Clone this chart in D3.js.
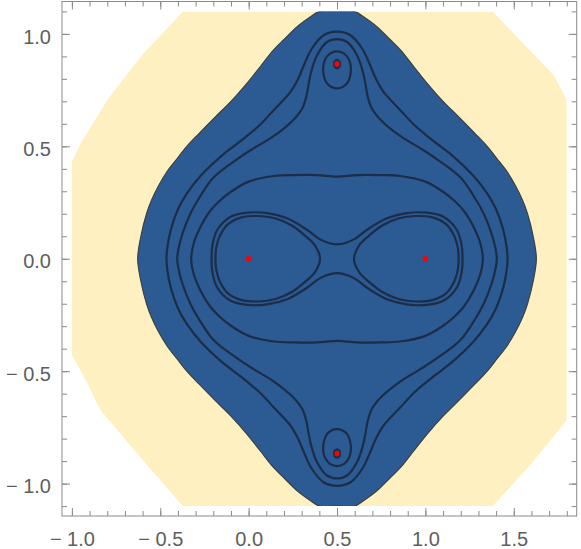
<!DOCTYPE html>
<html>
<head>
<meta charset="utf-8">
<script src="https://cdn.jsdelivr.net/npm/d3@7"></script>
<style>
  body { margin: 0; background: #fff; }
  svg { display: block; }
  text { font-family: "Liberation Sans", Arial, sans-serif; }
</style>
</head>
<body>
<svg id="chart" width="581" height="549"></svg>
<script>
// ---- data (x, y in plot units) ----

// axis ticks
const xMajor = [-1, -0.5, 0, 0.5, 1, 1.5];
const xMajorLabels = ["\u2212 1.0", "\u2212 0.5", "0.0", "0.5", "1.0", "1.5"];
const yMajor = [-1, -0.5, 0, 0.5, 1];
const yMajorLabels = ["\u2212 1.0", "\u2212 0.5", "0.0", "0.5", "1.0"];

// marked points
const roots = [[0, 0], [1, 0], [0.5, 0.866], [0.5, -0.866]];

// pale outer region (polygon)
const outerRegion = [
  [-0.371, 1.1], [1.381, 1.1], [1.555, 0.956], [1.725, 0.817], [1.8, 0.706],
  [1.8, -0.717], [1.602, -0.909], [1.381, -1.1], [-0.373, -1.1],
  [-0.615, -0.88], [-0.841, -0.672], [-0.907, -0.561], [-1, -0.428],
  [-1, 0.431], [-0.945, 0.52], [-0.794, 0.713], [-0.596, 0.913]
];

// the picture is symmetric about x = 0.5 and y = 0: quadrant traces
const mirrorX = 0.5;

// filled region edge, from the top (x = 0.5) to the real axis
const regionEdge = [
  [0.5, 1.1], [0.6, 1.1], [0.65, 1.076], [0.724, 1.033], [0.8, 0.975],
  [0.86, 0.928], [0.934, 0.855], [1.01, 0.78], [1.1, 0.7], [1.19, 0.63],
  [1.28, 0.558], [1.35, 0.5], [1.4, 0.45], [1.46, 0.39], [1.51, 0.325],
  [1.55, 0.26], [1.578, 0.2], [1.61, 0.1], [1.628, 0]
];

// level curves, quadrant traces (top of x = 0.5 -> real axis)
const levelB = [
  [0.5, 1.01], [0.576, 0.994], [0.642, 0.935], [0.685, 0.865], [0.72, 0.8],
  [0.76, 0.745], [0.81, 0.7], [0.857, 0.662], [0.934, 0.597], [1.048, 0.522],
  [1.15, 0.46], [1.27, 0.37], [1.35, 0.29], [1.4, 0.22], [1.44, 0.13],
  [1.46, 0.05], [1.465, 0]
];
const levelC = [
  [0.5, 0.977], [0.557, 0.964], [0.613, 0.905], [0.645, 0.835], [0.66, 0.78],
  [0.674, 0.72], [0.697, 0.668], [0.75, 0.615], [0.859, 0.545], [0.972, 0.491],
  [1.07, 0.44], [1.2, 0.36], [1.28, 0.27], [1.33, 0.2], [1.375, 0.11],
  [1.398, 0.04], [1.404, 0]
];
const levelD = [
  [0.5, 0.365], [0.613, 0.372], [0.745, 0.372], [0.857, 0.368], [1.0, 0.343],
  [1.1, 0.298], [1.159, 0.261], [1.22, 0.21], [1.272, 0.142], [1.31, 0.07],
  [1.325, 0]
];
const levelE = [
  [0.5, 0.064], [0.593, 0.085], [0.668, 0.128], [0.782, 0.18], [0.895, 0.203],
  [1.008, 0.205], [1.102, 0.187], [1.178, 0.128], [1.205, 0.06], [1.21, 0]
];

// oval round the root at 1 (upper half, left tip -> right end)
const levelF = [
  [0.596, 0], [0.624, 0.058], [0.681, 0.103], [0.756, 0.148], [0.851, 0.18],
  [0.945, 0.19], [1.039, 0.184], [1.115, 0.155], [1.162, 0.103], [1.184, 0.046],
  [1.188, 0]
];

// loops round the root at 0.5 + 0.866i (right half, top -> bottom)
const levelG1 = [
  [0.5, 0.922], [0.54, 0.912], [0.566, 0.888], [0.578, 0.855], [0.575, 0.815],
  [0.56, 0.783], [0.532, 0.764], [0.5, 0.758]
];
const levelG2 = [
  [0.5, 0.884], [0.512, 0.879], [0.517, 0.866], [0.512, 0.853], [0.5, 0.848]
];

// ---- helpers to close the symmetric traces ----
function fromQuadrant(q) {
  const n = q.length;
  const q4 = q.slice(0, n - 1).reverse().map(([a, b]) => [a, -b]);
  const q3 = q.slice(1).map(([a, b]) => [2 * mirrorX - a, -b]);
  const q2 = q.slice(1, n - 1).reverse().map(([a, b]) => [2 * mirrorX - a, b]);
  return [...q, ...q4, ...q3, ...q2];
}
function fromUpperHalf(h) {
  return [...h, ...h.slice(1, -1).reverse().map(([a, b]) => [a, -b])];
}
function fromRightHalf(h) {
  return [...h, ...h.slice(1, -1).reverse().map(([a, b]) => [2 * mirrorX - a, b])];
}
const flipX = pts => pts.map(([a, b]) => [2 * mirrorX - a, b]);
const flipY = pts => pts.map(([a, b]) => [a, -b]);

// ---- chart ----
const svg = d3.select('#chart');

const x = d3.scaleLinear().domain([-1.056, 1.856]).range([62, 576.7]);
const y = d3.scaleLinear().domain([-1.144, 1.144]).range([516, 1.5]);

svg.append('defs').append('clipPath')
  .attr('id', 'plotClip')
  .append('rect')
  .attr('x', x(-1))
  .attr('y', y(1.1))
  .attr('width', x(1.8) - x(-1))
  .attr('height', y(-1.1) - y(1.1));

const plot = svg.append('g').attr('clip-path', 'url(#plotClip)');

const straight = d3.line().x(d => x(d[0])).y(d => y(d[1])).curve(d3.curveLinearClosed);
const smooth = d3.line().x(d => x(d[0])).y(d => y(d[1])).curve(d3.curveCatmullRomClosed.alpha(0.5));

plot.append('path')
  .attr('d', straight(outerRegion))
  .attr('fill', '#fff0c2');

plot.append('path')
  .attr('d', smooth(fromQuadrant(regionEdge)))
  .attr('fill', '#2c5a93')
  .attr('stroke', '#3d3f3c')
  .attr('stroke-width', 1.1);

const rightOval = fromUpperHalf(levelF);
const topLoop1 = fromRightHalf(levelG1);
const topLoop2 = fromRightHalf(levelG2);

const curves = [
  fromQuadrant(levelB),
  fromQuadrant(levelC),
  fromQuadrant(levelD),
  fromQuadrant(levelE),
  rightOval, flipX(rightOval),
  topLoop1, flipY(topLoop1),
  topLoop2, flipY(topLoop2)
];

plot.selectAll('.level')
  .data(curves)
  .enter().append('path')
  .attr('class', 'level')
  .attr('d', d => smooth(d))
  .attr('fill', 'none')
  .attr('stroke', '#1b2d47')
  .attr('stroke-width', 2.2);

plot.selectAll('.root')
  .data(roots)
  .enter().append('circle')
  .attr('class', 'root')
  .attr('cx', d => x(d[0]))
  .attr('cy', d => y(d[1]))
  .attr('r', 2.7)
  .attr('fill', '#ff0000');

// ---- frame and ticks ----
const frameColor = '#8a8a8a';
const labelColor = '#5e5e5e';
const xMinor = d3.range(-10, 19).map(i => i / 10);
const yMinor = d3.range(-11, 12).map(i => i / 10);

const frameLeft = x.range()[0], frameRight = x.range()[1];
const frameTop = y.range()[1], frameBottom = y.range()[0];

function styleAxis(g) {
  g.select('.domain').remove();
  g.selectAll('line').attr('stroke', frameColor);
  g.selectAll('text').attr('fill', labelColor).attr('font-size', 20);
}

// bottom
svg.append('g').attr('transform', `translate(0,${frameBottom})`)
  .call(d3.axisBottom(x).tickValues(xMinor).tickSize(-5).tickFormat(''))
  .call(styleAxis);
svg.append('g').attr('transform', `translate(0,${frameBottom})`)
  .call(d3.axisBottom(x).tickValues(xMajor).tickSize(-8).tickPadding(15.8)
    .tickFormat((d, i) => xMajorLabels[i]))
  .call(styleAxis);
// top
svg.append('g').attr('transform', `translate(0,${frameTop})`)
  .call(d3.axisTop(x).tickValues(xMinor).tickSize(-5).tickFormat(''))
  .call(styleAxis);
svg.append('g').attr('transform', `translate(0,${frameTop})`)
  .call(d3.axisTop(x).tickValues(xMajor).tickSize(-8).tickFormat(''))
  .call(styleAxis);
// left
svg.append('g').attr('transform', `translate(${frameLeft},0)`)
  .call(d3.axisLeft(y).tickValues(yMinor).tickSize(-5).tickFormat(''))
  .call(styleAxis);
svg.append('g').attr('transform', `translate(${frameLeft},0)`)
  .call(d3.axisLeft(y).tickValues(yMajor).tickSize(-8).tickPadding(11)
    .tickFormat((d, i) => yMajorLabels[i]))
  .call(styleAxis)
  .selectAll('text').attr('dy', '0.46em');
// right
svg.append('g').attr('transform', `translate(${frameRight},0)`)
  .call(d3.axisRight(y).tickValues(yMinor).tickSize(-5).tickFormat(''))
  .call(styleAxis);
svg.append('g').attr('transform', `translate(${frameRight},0)`)
  .call(d3.axisRight(y).tickValues(yMajor).tickSize(-8).tickFormat(''))
  .call(styleAxis);

svg.append('rect')
  .attr('x', frameLeft)
  .attr('y', frameTop)
  .attr('width', frameRight - frameLeft)
  .attr('height', frameBottom - frameTop)
  .attr('fill', 'none')
  .attr('stroke', frameColor)
  .attr('stroke-width', 1);
</script>
</body>
</html>
